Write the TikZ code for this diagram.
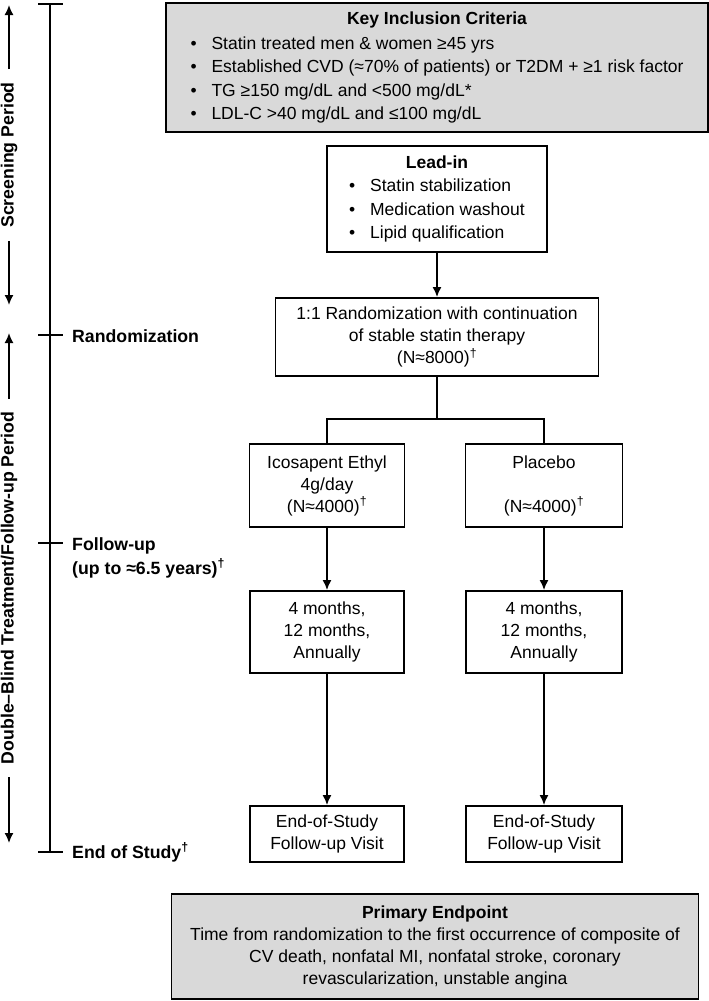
\documentclass[tikz,border=0pt]{standalone}
\usepackage{fontspec}
\setmainfont{Liberation Sans}
\usetikzlibrary{positioning, arrows.meta}

\definecolor{keygray}{RGB}{217,217,217}
\newcommand{\boxfont}{\fontsize{17.5}{22}\selectfont}
\newcommand{\listfont}{\fontsize{17.5}{23.4}\selectfont}
\newcommand{\labfont}{\fontsize{17.7}{24}\selectfont\bfseries}
\newcommand{\dg}{\textsuperscript{†}}
\newcommand{\bul}{\makebox[21pt][l]{•}}

\tikzset{
  box/.style={draw, line width=1.9pt, fill=white, align=center,
    inner sep=2pt, font=\boxfont},
  graybox/.style={box, fill=keygray},
  conn/.style={line width=1.6pt},
  arr/.style={conn, -{Latex[length=10pt,width=9pt]}},
  tline/.style={line width=2.4pt},
  period/.style={font=\labfont, rotate=90, inner xsep=13pt, inner ysep=0pt},
  tlabel/.style={font=\labfont, anchor=base west, inner sep=0pt}
}

\begin{document}
\begin{tikzpicture}[x=1pt, y=-1pt]
  \useasboundingbox (0,0) rectangle (709,1001);

  % timeline
  \coordinate (tTop) at (50,4);
  \coordinate (tRand) at (50,335);
  \coordinate (tFol) at (50,543);
  \coordinate (tEnd) at (50,852);

  \draw[tline] (tTop) -- (tEnd);
  \foreach \t in {tTop, tRand, tFol, tEnd}
    \draw[tline] ([xshift=-12pt]\t) -- ([xshift=13pt]\t);

  \node[tlabel] (lrand) at (72,342) {Randomization};
  \node[tlabel] (lfol) at (72,550) {Follow-up};
  \node[tlabel] (lfol2) at (72,574) {(up to ≈6.5 years)\dg};
  \node[tlabel] (lend) at (72,858) {End of Study\dg};

  % periods
  \coordinate (scrTop) at (9,5);
  \coordinate (scrBot) at (9,305);
  \node[period] (scr) at (9,155) {Screening Period};
  \draw[arr] (scr.east) -- (scrTop);
  \draw[arr] (scr.west) -- (scrBot);

  \coordinate (dblTop) at (9,333);
  \coordinate (dblBot) at (9,843);
  \node[period] (dbl) at (9,588) {Double–Blind Treatment/Follow-up Period};
  \draw[arr] (dbl.east) -- (dblTop);
  \draw[arr] (dbl.west) -- (dblBot);

  % boxes
  \node[graybox, font=\listfont,
    minimum width=542pt,
    minimum height=129pt] (key) at (437,67.5) {\begin{tabular}{@{}l@{}}
      \multicolumn{1}{@{}c@{}}{\bfseries Key Inclusion Criteria}\\[1.5pt]
      \bul Statin treated men \& women ≥45 yrs\\
      \bul Established CVD (≈70\% of patients) or T2DM + ≥1 risk factor\\
      \bul TG ≥150 mg/dL and <500 mg/dL*\\
      \bul LDL-C >40 mg/dL and ≤100 mg/dL
    \end{tabular}};

  \node[box, font=\listfont,
    minimum width=220pt,
    minimum height=106pt] (lead) at (437,199) {\begin{tabular}{@{}l@{}}
      \multicolumn{1}{@{}c@{}}{\bfseries Lead-in}\\
      \bul Statin stabilization\\
      \bul Medication washout\\
      \bul Lipid qualification
    \end{tabular}};

  \node[box,
    minimum width=323pt,
    minimum height=78pt] (rand) at (437,337)
    {1:1 Randomization with continuation\\ of stable statin therapy\\ (N≈8000)\dg};

  \node[box,
    minimum width=155pt,
    minimum height=83pt] (ico) at (327,485.5)
    {Icosapent Ethyl\\ 4g/day\\ (N≈4000)\dg};

  \node[box,
    minimum width=157pt,
    minimum height=83pt] (plac) at (544,485.5)
    {Placebo\\ \mbox{}\\ (N≈4000)\dg};

  \node[box,
    minimum width=154pt,
    minimum height=82pt] (mon1) at (327,632)
    {4 months,\\ 12 months,\\ Annually};

  \node[box,
    minimum width=156pt,
    minimum height=82pt] (mon2) at (544,632)
    {4 months,\\ 12 months,\\ Annually};

  \node[box,
    minimum width=154pt,
    minimum height=56pt] (eos1) at (327,834)
    {End-of-Study\\ Follow-up Visit};

  \node[box,
    minimum width=156pt,
    minimum height=56pt] (eos2) at (544,834)
    {End-of-Study\\ Follow-up Visit};

  \node[graybox,
    minimum width=527pt,
    minimum height=105pt] (prim) at (435,946.5)
    {\textbf{Primary Endpoint}\\
     Time from randomization to the first occurrence of composite of\\
     CV death, nonfatal MI, nonfatal stroke, coronary\\
     revascularization, unstable angina};

  % connectors
  \coordinate (split) at (437,419);
  \draw[arr] (lead) -- (rand);
  \draw[conn] (rand) -- (split);
  \draw[conn] (ico.north) |- (split) -| (plac.north);
  \draw[arr] (ico) -- (mon1);
  \draw[arr] (plac) -- (mon2);
  \draw[arr] (mon1) -- (eos1);
  \draw[arr] (mon2) -- (eos2);
\end{tikzpicture}
\end{document}
